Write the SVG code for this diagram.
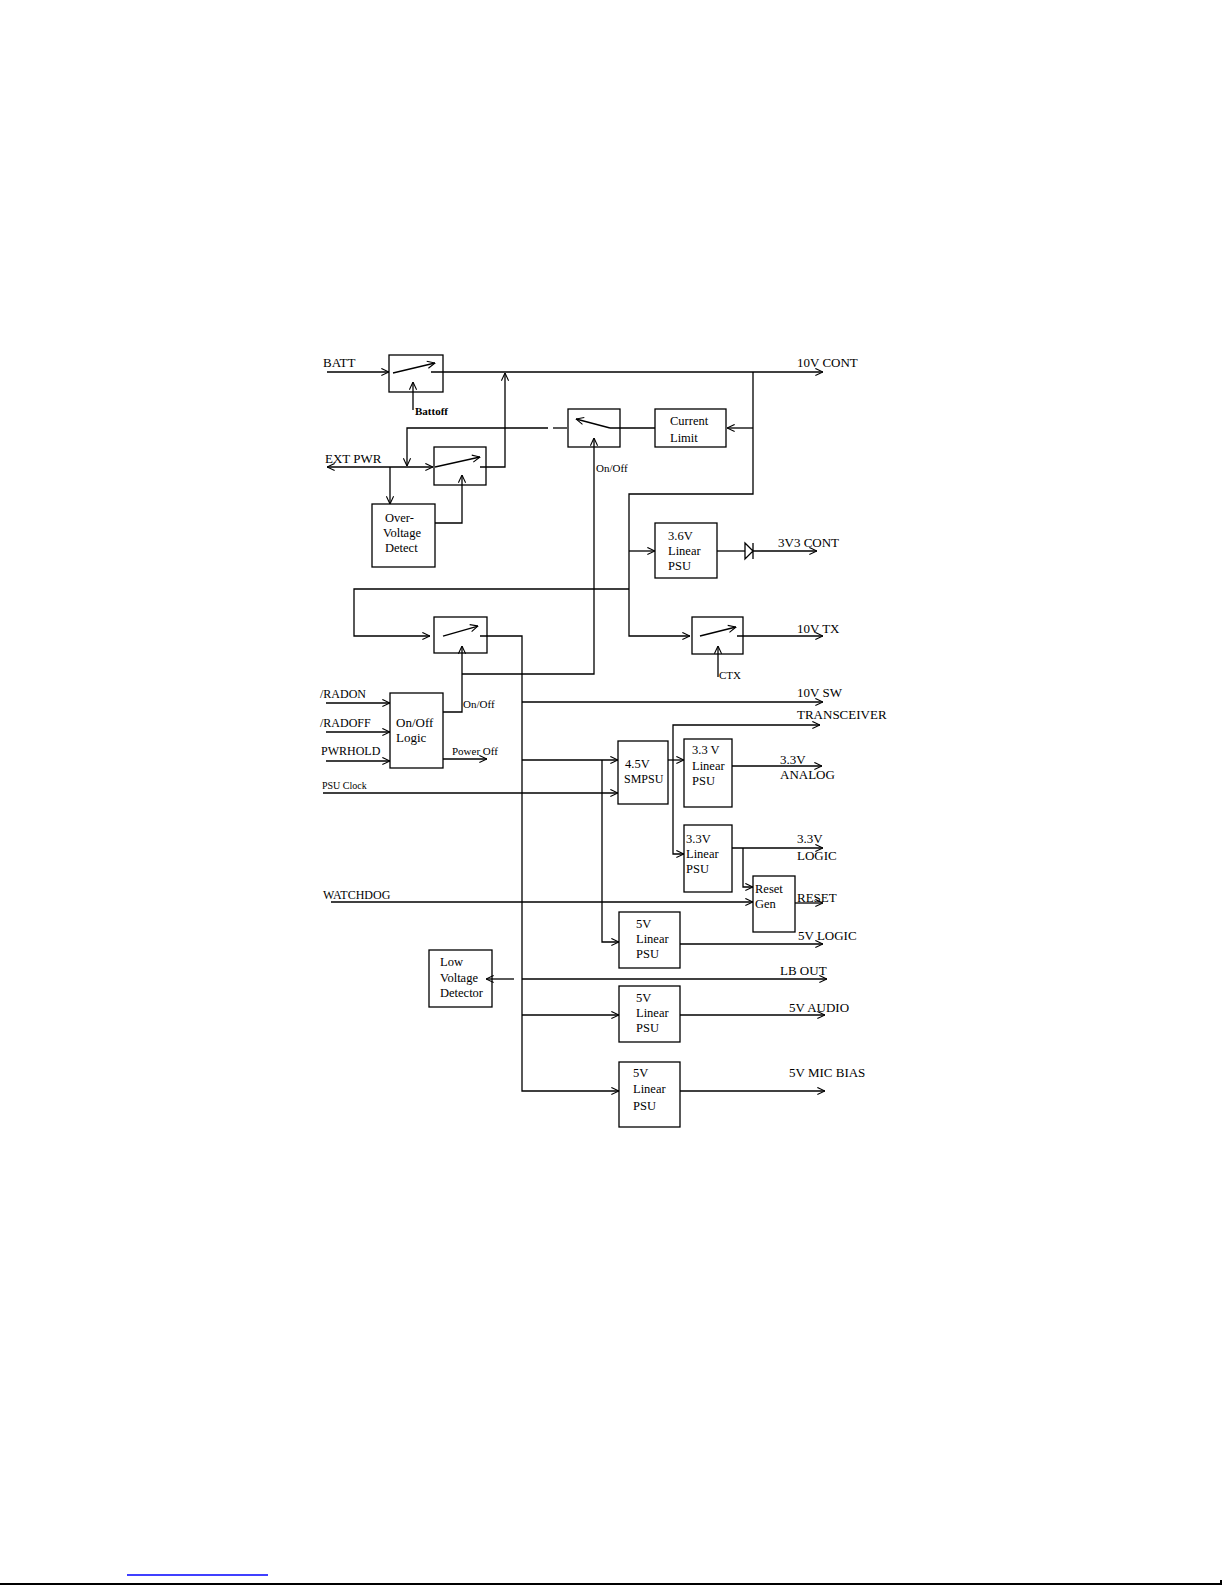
<svg xmlns="http://www.w3.org/2000/svg" width="1225" height="1585" viewBox="0 0 1225 1585">
<style>
.b{fill:#fff;stroke:#000;stroke-width:1.3}
.w{fill:none;stroke:#000;stroke-width:1.3}
.a{fill:none;stroke:#000;stroke-width:1.3;marker-end:url(#ah)}
text{font-family:"Liberation Serif","Times New Roman",serif;font-size:12.5px;fill:#000}
.l{font-size:13px}
.s{font-size:11px}
.xs{font-size:10px}
.m{font-size:12px}
</style>
<defs>
<marker id="ah" viewBox="0 0 10 10" refX="9.5" refY="5" markerWidth="9" markerHeight="9" markerUnits="userSpaceOnUse" orient="auto">
<path d="M1,1 L9.5,5 L1,9" fill="none" stroke="#000" stroke-width="1.2"/>
</marker>
</defs>
<rect width="1225" height="1585" fill="#fff"/>
<g id="connectors">
<path class="a" d="M327,372 H389"/>
<path class="a" d="M393,373 L435,363"/>
<path class="a" d="M431,372 H823"/>
<path class="a" d="M413,410 V382"/>
<path class="a" d="M390,467 H327"/>
<path class="a" d="M390,467 H433"/>
<path class="a" d="M390,467 V504"/>
<path class="a" d="M548,428 H407 V466"/>
<path class="w" d="M567,428 H553"/>
<path class="a" d="M610,428 L576,419"/>
<path class="w" d="M655,428 H610"/>
<path class="a" d="M753,372 V494 H629 V636 H690"/>
<path class="a" d="M753,428 H727"/>
<path class="a" d="M629,551 H655"/>
<path class="w" d="M717,551 H745"/>
<path class="w" d="M745,543 L753,551 L745,559 Z M753,543 V559"/>
<path class="a" d="M753,551 H817"/>
<path class="a" d="M462,674 H594 V438"/>
<path class="a" d="M435,467 L480,457"/>
<path class="a" d="M480,467 H505 V373"/>
<path class="a" d="M435,523 H462 V475"/>
<path class="a" d="M629,589 H354 V636 H430"/>
<path class="a" d="M443,636 L478,626"/>
<path class="a" d="M480,636 H522 V1091 H619"/>
<path class="a" d="M443,712 H462 V646"/>
<path class="a" d="M522,702 H823"/>
<path class="a" d="M326,703 H390"/>
<path class="a" d="M326,732 H390"/>
<path class="a" d="M326,761 H390"/>
<path class="a" d="M443,759 H487"/>
<path class="a" d="M323,793 H618"/>
<path class="a" d="M522,760 H618"/>
<path class="a" d="M602,760 V942 H619"/>
<path class="a" d="M668,760 H684"/>
<path class="a" d="M673,760 V725 H820"/>
<path class="a" d="M673,760 V854 H684"/>
<path class="a" d="M732,766 H822"/>
<path class="a" d="M732,848 H823"/>
<path class="a" d="M743,848 V887 H753"/>
<path class="a" d="M331,902 H753"/>
<path class="a" d="M795,903 H823"/>
<path class="a" d="M680,944 H823"/>
<path class="a" d="M522,979 H827"/>
<path class="a" d="M514,979 H486"/>
<path class="a" d="M522,1015 H619"/>
<path class="a" d="M680,1015 H825"/>
<path class="a" d="M680,1091 H825"/>
<path class="a" d="M700,636 L736,627"/>
<path class="a" d="M737,636 H823"/>
<path class="a" d="M718,677 V646"/>
</g>
<g id="batt-switch"><rect class="b" x="389" y="355" width="54" height="37" fill-opacity="0"/></g>
<g id="ext-switch"><rect class="b" x="434" y="447" width="52" height="38" fill-opacity="0"/></g>
<g id="over-voltage"><rect class="b" x="372" y="504" width="63" height="63"/><text x="385" y="522">Over-</text><text x="383" y="537">Voltage</text><text x="385" y="552">Detect</text></g>
<g id="onoff-switch"><rect class="b" x="568" y="409" width="52" height="38" fill-opacity="0"/></g>
<g id="current-limit"><rect class="b" x="655" y="409" width="71" height="38"/><text x="670" y="425">Current</text><text x="670" y="442">Limit</text></g>
<g id="psu-36"><rect class="b" x="655" y="523" width="62" height="55"/><text x="668" y="540">3.6V</text><text x="668" y="555">Linear</text><text x="668" y="570">PSU</text></g>
<g id="sw-switch"><rect class="b" x="434" y="617" width="53" height="36" fill-opacity="0"/></g>
<g id="tx-switch"><rect class="b" x="692" y="617" width="51" height="37" fill-opacity="0"/></g>
<g id="onoff-logic"><rect class="b" x="390" y="693" width="53" height="75"/><text class="l" x="396" y="727">On/Off</text><text class="l" x="396" y="742">Logic</text></g>
<g id="smpsu"><rect class="b" x="618" y="741" width="50" height="63"/><text x="625" y="768">4.5V</text><text class="m" x="624" y="783">SMPSU</text></g>
<g id="psu-33a"><rect class="b" x="684" y="739" width="48" height="68"/><text x="692" y="754">3.3 V</text><text x="692" y="770">Linear</text><text x="692" y="785">PSU</text></g>
<g id="psu-33l"><rect class="b" x="684" y="825" width="48" height="67"/><text x="686" y="843">3.3V</text><text x="686" y="858">Linear</text><text x="686" y="873">PSU</text></g>
<g id="reset-gen"><rect class="b" x="753" y="876" width="42" height="56"/><text x="755" y="893">Reset</text><text x="755" y="908">Gen</text></g>
<g id="psu-5l"><rect class="b" x="619" y="912" width="61" height="56"/><text x="636" y="928">5V</text><text x="636" y="943">Linear</text><text x="636" y="958">PSU</text></g>
<g id="low-voltage"><rect class="b" x="429" y="950" width="63" height="57" fill-opacity="0"/><text x="440" y="966">Low</text><text x="440" y="982">Voltage</text><text x="440" y="997">Detector</text></g>
<g id="psu-5a"><rect class="b" x="619" y="986" width="61" height="56"/><text x="636" y="1002">5V</text><text x="636" y="1017">Linear</text><text x="636" y="1032">PSU</text></g>
<g id="psu-5m"><rect class="b" x="619" y="1062" width="61" height="65"/><text x="633" y="1077">5V</text><text x="633" y="1093">Linear</text><text x="633" y="1110">PSU</text></g>
<g id="labels">
<text class="l" x="323" y="367">BATT</text>
<text class="s" x="415" y="415" font-weight="bold">Battoff</text>
<text class="l" x="325" y="463">EXT PWR</text>
<text class="s" x="596" y="472">On/Off</text>
<text class="l" x="797" y="367">10V CONT</text>
<text class="l" x="778" y="547">3V3 CONT</text>
<text class="l" x="797" y="633">10V TX</text>
<text class="s" x="719" y="679">CTX</text>
<text class="s" x="463" y="708">On/Off</text>
<text class="l" x="797" y="697">10V SW</text>
<text class="l" x="797" y="719">TRANSCEIVER</text>
<text class="m" x="320" y="698">/RADON</text>
<text class="m" x="320" y="727">/RADOFF</text>
<text class="m" x="321" y="755">PWRHOLD</text>
<text class="s" x="452" y="755">Power Off</text>
<text class="xs" x="322" y="789">PSU Clock</text>
<text class="l" x="780" y="764">3.3V</text>
<text class="l" x="780" y="779">ANALOG</text>
<text class="l" x="797" y="843">3.3V</text>
<text class="l" x="797" y="860">LOGIC</text>
<text class="m" x="323" y="899">WATCHDOG</text>
<text class="l" x="797" y="902">RESET</text>
<text class="l" x="798" y="940">5V LOGIC</text>
<text class="l" x="780" y="975">LB OUT</text>
<text class="l" x="789" y="1012">5V AUDIO</text>
<text class="l" x="789" y="1077">5V MIC BIAS</text>
</g>
<path d="M127,1575 H268" stroke="#0000ff" stroke-width="1.5" fill="none"/>
<path d="M0,1584 H1221 V1580" stroke="#000" stroke-width="2" fill="none"/>
</svg>
